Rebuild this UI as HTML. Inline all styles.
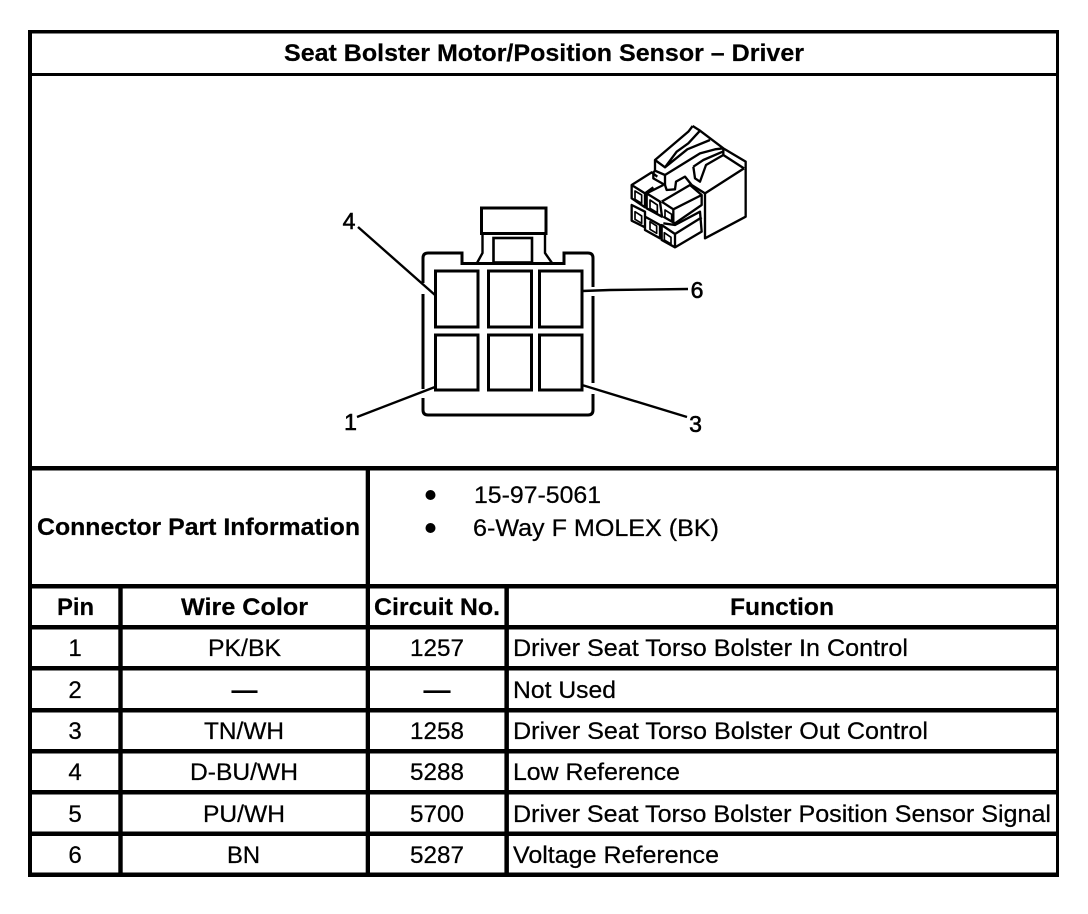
<!DOCTYPE html>
<html><head><meta charset="utf-8"><style>
html,body{margin:0;padding:0;background:#fff}
svg{display:block}
text{font-family:"Liberation Sans",sans-serif;font-size:24px;fill:#000;stroke:#000;stroke-width:.25px}
.b{font-weight:bold;stroke-width:.2px}
.m{text-anchor:middle}
.l{font-size:23px;stroke-width:.6px}
.d{stroke-width:1px}
</style></head><body>
<svg width="1088" height="914" viewBox="0 0 1088 914" xmlns="http://www.w3.org/2000/svg">
<rect width="1088" height="914" fill="#fff"/>
<g fill="#000">
<rect x="28" y="30" width="4" height="847"/>
<rect x="1056" y="30" width="3" height="847"/>
<rect x="28" y="30" width="1031" height="3.5"/>
<rect x="28" y="73" width="1031" height="3"/>
<rect x="28" y="466" width="1031" height="4.5"/>
<rect x="28" y="584" width="1031" height="4.5"/>
<rect x="28" y="625" width="1031" height="4.5"/>
<rect x="28" y="666" width="1031" height="4.5"/>
<rect x="28" y="708" width="1031" height="4.5"/>
<rect x="28" y="749" width="1031" height="4.5"/>
<rect x="28" y="790" width="1031" height="4.5"/>
<rect x="28" y="831.500" width="1031" height="4.5"/>
<rect x="28" y="872.500" width="1031" height="4.500"/>
<rect x="365.700" y="466" width="4.300" height="410"/>
<rect x="118.300" y="584" width="4.400" height="292"/>
<rect x="504.400" y="584" width="4.500" height="292"/>
</g>

<!-- front view -->
<g fill="none" stroke="#000" stroke-width="3">
<path d="M462 253H428q-5 0-5 5V410q0 5 5 5H588q5 0 5-5V258q0-5-5-5H564V263.500H462Z"/>
<rect x="481.500" y="208" width="64.500" height="25.500"/>
<path d="M482.500 233.500V253L477 263M545 233.500V253L552 263" stroke-width="2.400"/>
<rect x="493.500" y="238" width="38.500" height="24.500" stroke-width="2.600"/>
</g>
<g fill="#fff" stroke="#000" stroke-width="3">
<rect x="435.500" y="271" width="42.500" height="56"/>
<rect x="488.500" y="271" width="43" height="56"/>
<rect x="539.500" y="271" width="42.500" height="56"/>
<rect x="435.500" y="335" width="42.500" height="55"/>
<rect x="488.500" y="335" width="43" height="55"/>
<rect x="539.500" y="335" width="42.500" height="55"/>
</g>
<!-- gaps in wall where leaders cross -->
<g fill="#fff">
<rect x="420.500" y="283" width="5" height="11"/>
<rect x="420.500" y="389" width="5" height="9"/>
<rect x="590.500" y="287" width="5" height="9"/>
<rect x="590.500" y="383" width="5" height="11"/>
</g>
<g fill="none" stroke="#000" stroke-width="2.400">
<path d="M358 227L435 295"/>
<path d="M582 291L610 290L688 289"/>
<path d="M582 385L687 417"/>
<path d="M435 387L357 417"/>
</g>
<text class="m l" x="349" y="229">4</text>
<text class="m l" x="697" y="298">6</text>
<text class="m l" x="350.500" y="430">1</text>
<text class="m l" x="695.500" y="432">3</text>

<!-- isometric connector -->
<g transform="translate(600 110) scale(.33333)" fill="none" stroke="#000" stroke-width="7" stroke-linejoin="round">
<path d="M278 48L300 62L370 115L437 155V320L315 385V250L275 225"/>
<path d="M315 250L370 215L432 175"/>
<path d="M370 115V135L432 175"/>
<path d="M278 48L265 65L165 150V182L160 188V205L195 225L200 240L225 238L228 215L255 200L275 225"/>
<path d="M165 150L195 172L262 118L330 90M300 62L265 100L230 125L195 172"/>
<path d="M165 182L195 195V225M195 195L300 130L345 118L370 115"/>
<path d="M280 170L310 150L368 125M280 170L285 205L300 215L318 165L370 135"/>
<path d="M95 225L155 187L172 200M95 225L135 250V292L95 265ZM135 250L160 232"/>
<path d="M140 250L190 225M140 250L180 275L186 320L140 295Z"/>
<path d="M185 275L270 225L305 255V285L225 340L190 320M185 275L220 298L305 255M220 298V340"/>
<path d="M95 285V332L135 352V305L95 285ZM135 320L180 345V385L135 360Z"/>
<path d="M185 345L225 372V412L185 390ZM190 340L225 345L300 305L305 365L225 412M225 372L305 322"/>
<g stroke-width="5">
<path d="M105 243L125 255V280L105 268Z"/>
<path d="M105 305L125 318V340L105 328Z"/>
<path d="M150 270L172 285V308L150 295Z"/>
<path d="M150 335L170 348V370L150 358Z"/>
<path d="M195 300L215 313V335L195 323Z"/>
<path d="M193 368L213 382V402L193 390Z"/>
</g>
</g>

<!-- text -->
<text class="b" x="284" y="61" textLength="520" lengthAdjust="spacingAndGlyphs">Seat Bolster Motor/Position Sensor – Driver</text>
<text class="b" x="37" y="535" textLength="323" lengthAdjust="spacingAndGlyphs">Connector Part Information</text>
<circle cx="430.500" cy="495" r="5"/>
<circle cx="430.500" cy="528" r="5"/>
<text x="474" y="503" textLength="127" lengthAdjust="spacingAndGlyphs">15-97-5061</text>
<text x="473" y="536" textLength="246" lengthAdjust="spacingAndGlyphs">6-Way F MOLEX (BK)</text>

<text class="b" x="57" y="615" textLength="37" lengthAdjust="spacingAndGlyphs">Pin</text>
<text class="b" x="181" y="615" textLength="127" lengthAdjust="spacingAndGlyphs">Wire Color</text>
<text class="b" x="374" y="615" textLength="126" lengthAdjust="spacingAndGlyphs">Circuit No.</text>
<text class="b" x="730" y="615" textLength="104" lengthAdjust="spacingAndGlyphs">Function</text>

<text class="m" x="75" y="656">1</text>
<text class="m" x="75" y="698">2</text>
<text class="m" x="75" y="739">3</text>
<text class="m" x="75" y="780">4</text>
<text class="m" x="75" y="822">5</text>
<text class="m" x="75" y="863">6</text>

<text x="208" y="656" textLength="73" lengthAdjust="spacingAndGlyphs">PK/BK</text>
<text x="204" y="739" textLength="80" lengthAdjust="spacingAndGlyphs">TN/WH</text>
<text x="190" y="780" textLength="108" lengthAdjust="spacingAndGlyphs">D-BU/WH</text>
<text x="203" y="822" textLength="82" lengthAdjust="spacingAndGlyphs">PU/WH</text>
<text x="227" y="863" textLength="33" lengthAdjust="spacingAndGlyphs">BN</text>
<text class="d" x="232" y="698" textLength="25" lengthAdjust="spacingAndGlyphs">—</text>
<text class="d" x="424" y="698" textLength="26" lengthAdjust="spacingAndGlyphs">—</text>

<text x="410" y="656" textLength="54" lengthAdjust="spacingAndGlyphs">1257</text>
<text x="410" y="739" textLength="54" lengthAdjust="spacingAndGlyphs">1258</text>
<text x="410" y="780" textLength="54" lengthAdjust="spacingAndGlyphs">5288</text>
<text x="410" y="822" textLength="54" lengthAdjust="spacingAndGlyphs">5700</text>
<text x="410" y="863" textLength="54" lengthAdjust="spacingAndGlyphs">5287</text>

<text x="513" y="656" textLength="395" lengthAdjust="spacingAndGlyphs">Driver Seat Torso Bolster In Control</text>
<text x="513" y="698" textLength="103" lengthAdjust="spacingAndGlyphs">Not Used</text>
<text x="513" y="739" textLength="415" lengthAdjust="spacingAndGlyphs">Driver Seat Torso Bolster Out Control</text>
<text x="513" y="780" textLength="167" lengthAdjust="spacingAndGlyphs">Low Reference</text>
<text x="513" y="822" textLength="538" lengthAdjust="spacingAndGlyphs">Driver Seat Torso Bolster Position Sensor Signal</text>
<text x="513" y="863" textLength="206" lengthAdjust="spacingAndGlyphs">Voltage Reference</text>
</svg>
</body></html>
